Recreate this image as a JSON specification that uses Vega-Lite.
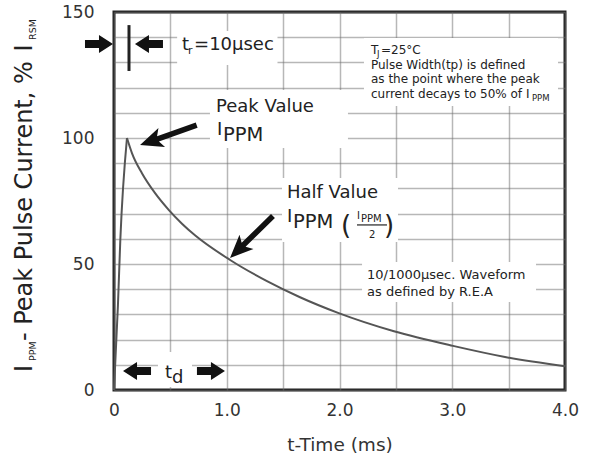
{
  "$schema": "https://vega.github.io/schema/vega-lite/v6.json",
  "width": 451,
  "height": 378,
  "autosize": {"type": "none"},
  "padding": {"left": 114, "top": 12, "right": 28, "bottom": 72},
  "config": {
    "view": {"stroke": "#222", "strokeWidth": 3},
    "font": "DejaVu Sans"
  },
  "encoding": {
    "x": {
      "field": "t", "type": "quantitative",
      "scale": {"domain": [0, 4], "nice": false, "zero": false},
      "axis": {
        "values": [0, 0.5, 1, 1.5, 2, 2.5, 3, 3.5, 4],
        "labelExpr": "datum.value % 1 != 0 ? '' : (datum.value == 0 ? '0' : format(datum.value, '.1f'))",
        "grid": true, "gridColor": "#707070", "gridWidth": 1.5, "gridOpacity": 0.5,
        "ticks": false, "domain": false,
        "labelFont": "DejaVu Sans", "labelFontSize": 17, "labelColor": "#333",
        "labelPadding": 12, "labelFlush": false, "labelOverlap": false,
        "title": "t-Time (ms)", "titleFont": "DejaVu Sans", "titleFontSize": 18.5,
        "titleFontWeight": "normal", "titleColor": "#333", "titlePadding": 17
      }
    },
    "y": {
      "field": "v", "type": "quantitative",
      "scale": {"domain": [0, 150], "nice": false, "zero": false},
      "axis": {
        "values": [0, 10, 20, 30, 40, 50, 60, 70, 80, 90, 100, 110, 120, 130, 140, 150],
        "labelExpr": "datum.value % 50 == 0 ? format(datum.value, 'd') : ''",
        "grid": true, "gridColor": "#707070", "gridWidth": 1.5, "gridOpacity": 0.5,
        "ticks": false, "domain": false,
        "labelFont": "DejaVu Sans", "labelFontSize": 17, "labelColor": "#333",
        "labelPadding": 20, "labelFlush": false, "labelOverlap": false,
        "title": null
      }
    }
  },
  "layer": [
    {
      "data": {"values": [
        {"t": 0.56, "t2": 1.45, "v": 142.5, "v2": 129.0},
        {"t": 0.851, "t2": 2.075, "v": 119.0, "v2": 96.0},
        {"t": 1.49, "t2": 2.519, "v": 84.1, "v2": 58.7},
        {"t": 2.217, "t2": 3.938, "v": 139.7, "v2": 112.7},
        {"t": 2.2, "t2": 3.743, "v": 50.8, "v2": 34.9},
        {"t": 0.39, "t2": 0.692, "v": 15.1, "v2": 1.2}
      ]},
      "mark": {"type": "rect", "fill": "white", "stroke": null},
      "encoding": {"x2": {"field": "t2"}, "y2": {"field": "v2"}}
    },
    {
      "data": {"values": [
        {"t": 0, "v": 0, "seg": "rise"},
        {"t": 0.035, "v": 33.7, "seg": "rise"},
        {"t": 0.056, "v": 59.5, "seg": "rise"},
        {"t": 0.115, "v": 100, "seg": "rise"},
        {"t": 0.115, "v": 100, "seg": "decay"},
        {"t": 0.16, "v": 93.9, "seg": "decay"},
        {"t": 0.248, "v": 86.0, "seg": "decay"},
        {"t": 0.366, "v": 78.0, "seg": "decay"},
        {"t": 0.485, "v": 71.5, "seg": "decay"},
        {"t": 0.603, "v": 66.0, "seg": "decay"},
        {"t": 0.721, "v": 61.3, "seg": "decay"},
        {"t": 1.03, "v": 51.6, "seg": "decay"},
        {"t": 1.357, "v": 43.2, "seg": "decay"},
        {"t": 1.65, "v": 36.8, "seg": "decay"},
        {"t": 1.987, "v": 30.6, "seg": "decay"},
        {"t": 2.483, "v": 23.3, "seg": "decay"},
        {"t": 3.007, "v": 17.5, "seg": "decay"},
        {"t": 3.468, "v": 13.1, "seg": "decay"},
        {"t": 4.0, "v": 9.4, "seg": "decay"}
      ]},
      "mark": {"type": "line", "color": "#555", "strokeWidth": 2, "interpolate": "monotone"},
      "encoding": {"detail": {"field": "seg"}}
    },
    {
      "data": {"values": [{"t": 0.133, "v": 126.6, "v2": 144.8}]},
      "mark": {"type": "rule", "color": "#222", "strokeWidth": 3},
      "encoding": {"y2": {"field": "v2"}}
    },
    {
      "data": {"values": [{"t": 2.155, "t2": 2.421, "v": 65.5}]},
      "mark": {"type": "rule", "color": "#222", "strokeWidth": 1.2},
      "encoding": {"x2": {"field": "t2"}}
    },
    {
      "data": {"values": [{"t": -0.009, "v": 137.3}, {"t": 0.984, "v": 7.54}]},
      "mark": {"type": "point", "shape": "M0,0L-1.4,-0.9L-1.4,-0.4L-2.8,-0.4L-2.8,0.4L-1.4,0.4L-1.4,0.9Z", "size": 400, "filled": true, "color": "#111", "opacity": 1, "strokeWidth": 0, "angle": 0}
    },
    {
      "data": {"values": [{"t": 0.186, "v": 137.3}, {"t": 0.08, "v": 7.54}]},
      "mark": {"type": "point", "shape": "M0,0L-1.4,-0.9L-1.4,-0.4L-2.8,-0.4L-2.8,0.4L-1.4,0.4L-1.4,0.9Z", "size": 400, "filled": true, "color": "#111", "opacity": 1, "strokeWidth": 0, "angle": 180}
    },
    {
      "data": {"values": [{"t": 0.231, "v": 97.2}]},
      "mark": {"type": "point", "shape": "M0,0L-2.3,-1.0L-1.9,-0.28L-6,-0.28L-6,0.28L-1.9,0.28L-2.3,1.0Z", "size": 400, "filled": true, "color": "#111", "opacity": 1, "strokeWidth": 0, "angle": 160.7}
    },
    {
      "data": {"values": [{"t": 1.029, "v": 52.4}]},
      "mark": {"type": "point", "shape": "M0,0L-2.3,-1.0L-1.9,-0.28L-6,-0.28L-6,0.28L-1.9,0.28L-2.3,1.0Z", "size": 400, "filled": true, "color": "#111", "opacity": 1, "strokeWidth": 0, "angle": 135.7}
    },
    {
      "data": {"values": [
        {"t": 0.603, "v": 134.9, "s": "t"},
        {"t": 0.71, "v": 134.9, "s": "=10μsec"},
        {"t": 0.905, "v": 110.3, "s": "Peak Value"},
        {"t": 0.914, "v": 101.2, "s": "I"},
        {"t": 1.534, "v": 76.2, "s": "Half Value"},
        {"t": 1.534, "v": 66.7, "s": "I"},
        {"t": 0.452, "v": 4.76, "s": "t"},
        {"t": 0.514, "v": 2.78, "s": "d"}
      ]},
      "mark": {"type": "text", "font": "DejaVu Sans", "fontSize": 18, "color": "#222", "align": "left", "baseline": "alphabetic"},
      "encoding": {"text": {"field": "s"}}
    },
    {
      "data": {"values": [
        {"t": 0.967, "v": 98.8, "s": "PPM"},
        {"t": 1.588, "v": 64.3, "s": "PPM"}
      ]},
      "mark": {"type": "text", "font": "DejaVu Sans", "fontSize": 19.5, "color": "#222", "align": "left", "baseline": "alphabetic"},
      "encoding": {"text": {"field": "s"}}
    },
    {
      "data": {"values": [{"t": 0.656, "v": 133.3, "s": "r"}]},
      "mark": {"type": "text", "font": "DejaVu Sans", "fontSize": 11, "color": "#222", "align": "left", "baseline": "alphabetic"},
      "encoding": {"text": {"field": "s"}}
    },
    {
      "data": {"values": [
        {"t": 2.013, "v": 61.9, "s": "("},
        {"t": 2.395, "v": 61.9, "s": ")"}
      ]},
      "mark": {"type": "text", "font": "DejaVu Sans", "fontSize": 26, "color": "#222", "align": "left", "baseline": "alphabetic"},
      "encoding": {"text": {"field": "s"}}
    },
    {
      "data": {"values": [
        {"t": 2.155, "v": 67.9, "s": "I"},
        {"t": 2.191, "v": 66.7, "s": "PPM"},
        {"t": 2.262, "v": 60.3, "s": "2"}
      ]},
      "mark": {"type": "text", "font": "DejaVu Sans", "fontSize": 10, "color": "#222", "align": "left", "baseline": "alphabetic"},
      "encoding": {"text": {"field": "s"}}
    },
    {
      "data": {"values": [
        {"t": 2.279, "v": 133.3, "s": "T"},
        {"t": 2.368, "v": 133.3, "s": "=25°C"},
        {"t": 2.279, "v": 127.4, "s": "Pulse Width(tp) is defined"},
        {"t": 2.279, "v": 121.8, "s": "as the point where the peak"},
        {"t": 2.279, "v": 115.9, "s": "current decays to 50% of I"}
      ]},
      "mark": {"type": "text", "font": "DejaVu Sans", "fontSize": 12, "color": "#222", "align": "left", "baseline": "alphabetic"},
      "encoding": {"text": {"field": "s"}}
    },
    {
      "data": {"values": [
        {"t": 2.333, "v": 132.1, "s": "J"},
        {"t": 3.707, "v": 114.7, "s": "PPM"}
      ]},
      "mark": {"type": "text", "font": "DejaVu Sans", "fontSize": 8.5, "color": "#222", "align": "left", "baseline": "alphabetic"},
      "encoding": {"text": {"field": "s"}}
    },
    {
      "data": {"values": [
        {"t": 2.244, "v": 44.0, "s": "10/1000μsec. Waveform"},
        {"t": 2.244, "v": 37.3, "s": "as defined by R.E.A"}
      ]},
      "mark": {"type": "text", "font": "DejaVu Sans", "fontSize": 13, "color": "#222", "align": "left", "baseline": "alphabetic"},
      "encoding": {"text": {"field": "s"}}
    },
    {
      "data": {"values": [
        {"t": -0.727, "v": 7.14, "s": "I"},
        {"t": -0.727, "v": 19.4, "s": "- Peak Pulse Current, %"},
        {"t": -0.727, "v": 134.3, "s": "I"}
      ]},
      "mark": {"type": "text", "font": "DejaVu Sans", "fontSize": 24, "color": "#222", "align": "left", "baseline": "alphabetic", "angle": 270},
      "encoding": {"text": {"field": "s"}}
    },
    {
      "data": {"values": [
        {"t": -0.696, "v": 11.5, "s": "PPM"},
        {"t": -0.696, "v": 138.9, "s": "RSM"}
      ]},
      "mark": {"type": "text", "font": "DejaVu Sans", "fontSize": 9.5, "color": "#222", "align": "left", "baseline": "alphabetic", "angle": 270},
      "encoding": {"text": {"field": "s"}}
    }
  ]
}
